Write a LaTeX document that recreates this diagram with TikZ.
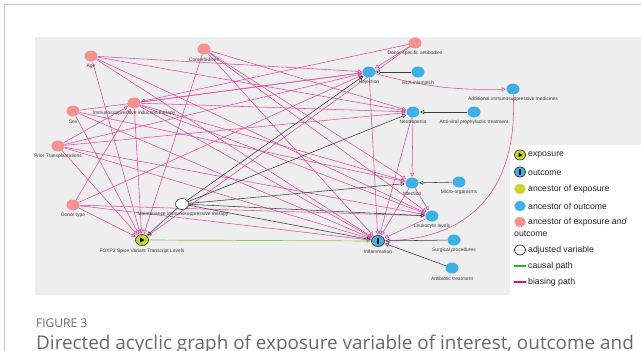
\documentclass[tikz,border=0pt]{standalone}
\usepackage{fontspec}
\setmainfont{Liberation Sans}
\newfontfamily\capfont{Open Sans}
\usetikzlibrary{arrows.meta,shapes.geometric}
\definecolor{panel}{RGB}{238,238,238}
\definecolor{pinkn}{RGB}{244,146,146}
\definecolor{bluen}{RGB}{62,176,228}
\definecolor{expn}{RGB}{200,214,46}
\definecolor{pinke}{RGB}{221,76,165}
\definecolor{graye}{RGB}{60,60,60}
\definecolor{greene}{RGB}{140,200,90}
\definecolor{greenl}{RGB}{60,170,50}
\definecolor{pinkl}{RGB}{214,20,127}
\definecolor{lbltext}{RGB}{60,60,60}
\definecolor{captext}{RGB}{105,105,105}
\definecolor{framec}{RGB}{200,200,200}
\pgfdeclarelayer{bg}\pgfdeclarelayer{edges}\pgfsetlayers{bg,edges,main}
\begin{document}
\begin{tikzpicture}[x=1pt,y=-1pt,
 var/.style={ellipse, minimum width=13pt, minimum height=11pt, inner sep=0pt},
 pinkvar/.style={var, fill=pinkn},
 bluevar/.style={var, fill=bluen},
 lbl/.style={font=\fontsize{4.9}{5}\selectfont, text=lbltext, inner sep=0.3pt},
 pe/.style={draw=pinke, line width=0.55pt, shorten >=0.5pt, -{Triangle[open,length=4pt,width=4pt]}},
 ge/.style={draw=graye, line width=0.55pt, shorten >=0.5pt, -{Triangle[open,length=4pt,width=4pt]}},
 ce/.style={draw=greene, line width=0.7pt, shorten >=0.5pt, -{Triangle[open,length=4pt,width=4pt]}},
 leg/.style={font=\fontsize{8.7}{10.5}\selectfont, anchor=west, inner sep=0pt, text=black!85},
 legvar/.style={ellipse, minimum width=11.5pt, minimum height=10pt, inner sep=0pt},
]
\useasboundingbox (0,0) rectangle (641,351);
\begin{pgfonlayer}{bg}
\draw[framec, line width=0.8pt] (4,360) -- (4,4) -- (650,4);
\fill[panel] (35,37) -- (641,37) -- (641,145) -- (510,145) -- (510,295) -- (35,295) -- cycle;
\end{pgfonlayer}

% nodes
\node[pinkvar] (age) at (91,56) {};
\node[lbl] (agel) at (91,66.5) {Age};
\node[pinkvar] (com) at (204,49) {};
\node[lbl] (coml) at (204,59.5) {Comorbidities};
\node[pinkvar] (dsa) at (415,43) {};
\node[lbl] (dsal) at (415,53.5) {Donor specific antibodies};
\node[bluevar] (rej) at (369,72) {};
\node[lbl] (rejl) at (369,82.5) {Rejection};
\node[bluevar] (hla) at (418,72) {};
\node[lbl] (hlal) at (418,82.5) {HLA mismatch};
\node[bluevar] (add) at (513,89) {};
\node[lbl] (addl) at (513,99.5) {Additional immunosuppressive medicines};
\node[pinkvar] (sex) at (73,111) {};
\node[lbl] (sexl) at (73,121.5) {Sex};
\node[pinkvar] (ind) at (134,103) {};
\node[lbl] (indl) at (134,113.5) {Immunosuppressive induction therapy};
\node[bluevar] (neut) at (413,112) {};
\node[lbl] (neutl) at (413,122.5) {Neutropenia};
\node[bluevar] (anti) at (474,112) {};
\node[lbl] (antil) at (474,122.5) {Anti-viral prophylactic treatment};
\node[pinkvar] (prior) at (58,146) {};
\node[lbl] (priorl) at (58,156.5) {Prior Transplantations};
\node[bluevar] (infect) at (412,183) {};
\node[lbl] (infectl) at (412,193.5) {Infection};
\node[bluevar] (micro) at (459,182) {};
\node[lbl] (microl) at (459,192.5) {Micro-organisms};
\node[pinkvar] (donor) at (73,205) {};
\node[lbl] (donorl) at (73,215.5) {Donor type};
\node[var, fill=white, draw=black!80, line width=0.6pt] (maint) at (182,204) {};
\node[lbl] (maintl) at (183,214.5) {Maintenance immunosuppressive therapy};
\node[bluevar] (leuk) at (432,216) {};
\node[lbl] (leukl) at (432,226.5) {Leukocyte levels};
\node[var, fill=expn, draw=black!80, line width=0.7pt] (foxp3) at (142,240) {};
\fill[black] (140.2,237.6) -- (144.6,240) -- (140.2,242.4) -- cycle;
\node[lbl] (foxp3l) at (142,251) {FOXP3 Spice Variant Transcript Levels};
\node[var, fill=bluen, draw=black!80, line width=0.7pt] (infl) at (378,241) {};
\fill[black] (377.4,238) rectangle (378.6,244);
\node[lbl] (infll) at (378,252) {Inflammation};
\node[bluevar] (surg) at (454,240) {};
\node[lbl] (surgl) at (454,250.5) {Surgical procedures};
\node[bluevar] (abx) at (452,268) {};
\node[lbl] (abxl) at (452,278.5) {Antibiotic treatment};

\begin{pgfonlayer}{edges}
\foreach \a/\b in {age/foxp3, age/neut, age/leuk, age/infl, age/rej,
  com/foxp3, com/neut, com/infect, com/infl, com/leuk,
  dsa/rej, dsa/ind, dsa/foxp3,
  sex/foxp3, sex/infect, sex/infl, sex/rej,
  ind/foxp3, ind/rej, ind/neut, ind/infect, ind/leuk, ind/infl,
  prior/foxp3, prior/ind, prior/rej, prior/neut, prior/leuk, prior/infl,
  donor/foxp3, donor/ind, donor/rej, donor/leuk, donor/infl,
  rej/infl, neut/infect, neut/infl, infect/leuk, infect/infl, leuk/infl}
  \draw[pe] (\a) -- (\b);
\draw[pe] (rej) to[bend right=8] (add);
\draw[pe] (add) .. controls (518,190) and (470,238) .. (infl);
\foreach \a/\b in {hla/rej, anti/neut, micro/infect, surg/infl, abx/infl,
  maint/rej, maint/neut, maint/infect, maint/leuk, maint/infl, maint/foxp3}
  \draw[ge] (\a) -- (\b);
\draw[ce] (foxp3) -- (infl);
\end{pgfonlayer}

% legend
\node[legvar, fill=expn, draw=black!80, line width=0.7pt] (lexp) at (520,155) {};
\fill[black] (518.6,152.8) -- (522.6,155) -- (518.6,157.2) -- cycle;
\node[leg] (texp) at (528,155.5) {exposure};
\node[legvar, fill=bluen, draw=black!80, line width=0.7pt] (lout) at (520,172) {};
\fill[black] (519.4,169.2) rectangle (520.6,174.8);
\node[leg] (tout) at (528,172.5) {outcome};
\node[legvar, fill=expn] (lae) at (520,189) {};
\node[leg] (tae) at (528,189.5) {ancestor of exposure};
\node[legvar, fill=bluen] (lao) at (520,206) {};
\node[leg] (tao) at (528,206.5) {ancestor of outcome};
\node[legvar, fill=pinkn] (laeo) at (520,222) {};
\node[leg] (taeo) at (528,222.5) {ancestor of exposure \textit{and}};
\node[leg] (taeo2) at (514,234) {outcome};
\node[legvar, fill=white, draw=black!85, line width=0.7pt] (ladj) at (520,250) {};
\node[leg] (tadj) at (528,250.5) {adjusted variable};
\coordinate (cp1) at (514,266); \coordinate (cp2) at (526,266);
\draw[greenl, line width=2.2pt] (cp1) -- (cp2);
\node[leg] (tcp) at (528,266.5) {causal path};
\coordinate (bp1) at (514,282); \coordinate (bp2) at (526,282);
\draw[pinkl, line width=2.2pt] (bp1) -- (bp2);
\node[leg] (tbp) at (528,282.5) {biasing path};

% caption
\node[anchor=west, inner sep=0pt, font=\capfont\fontsize{12}{14}\selectfont, text=captext] (fig) at (36,323) {FIGURE 3};
\node[anchor=base west, inner sep=0pt, font=\capfont\fontsize{18.9}{21}\selectfont, text=captext] (cap) at (36,349) {Directed acyclic graph of exposure variable of interest, outcome and};
\end{tikzpicture}
\end{document}
